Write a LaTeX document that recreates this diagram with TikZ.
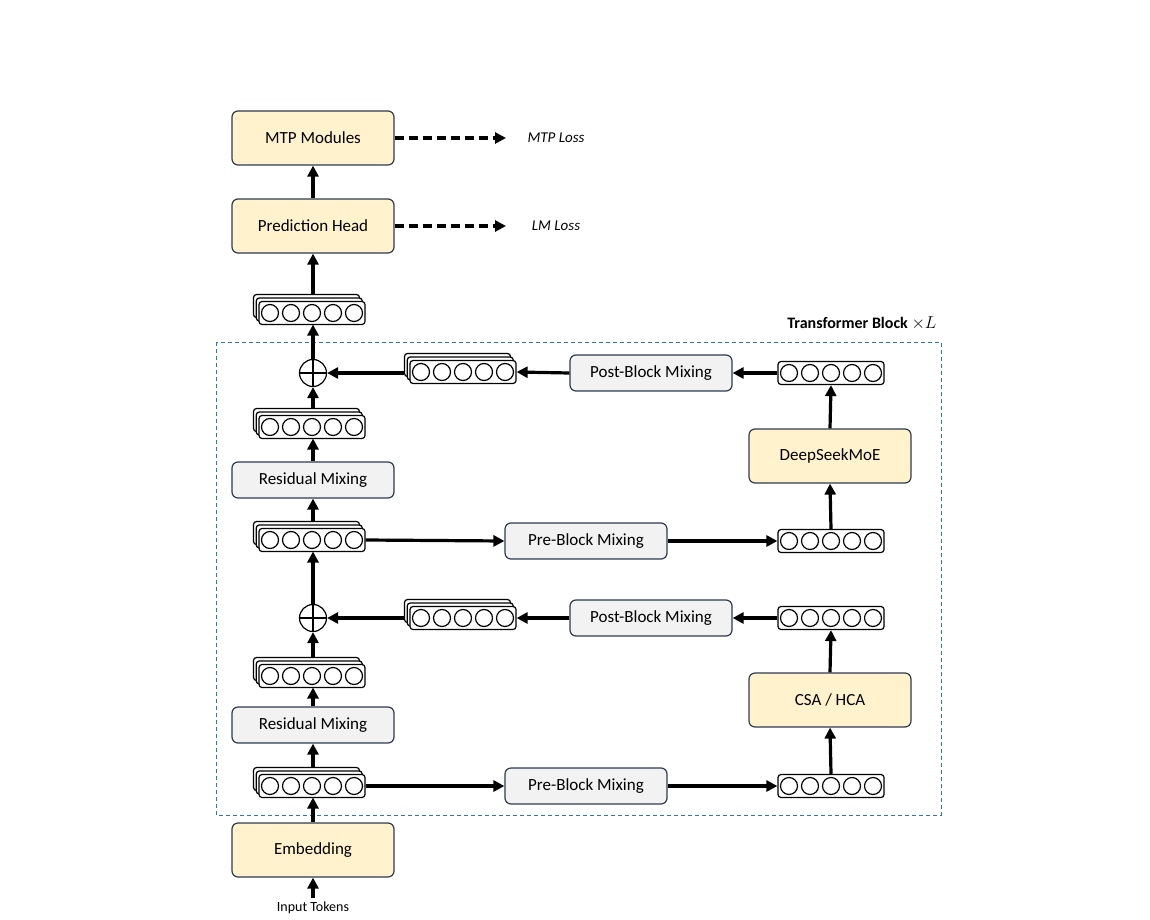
\documentclass[tikz,border=0pt]{standalone}
\usepackage{fontspec}
\setmainfont{Carlito}
\usetikzlibrary{arrows.meta}
\definecolor{yel}{HTML}{FFF2CC}
\definecolor{gry}{HTML}{F2F2F2}
\definecolor{bord}{HTML}{2F3A4F}
\definecolor{dblue}{HTML}{2E75B6}
\tikzset{
 box/.style={draw=bord, line width=1.2pt, rounded corners=6, minimum width=162, minimum height=36, font=\fontsize{17}{20}\selectfont},
 ybox/.style={box, fill=yel, minimum height=54},
 gbox/.style={box, fill=gry},
 vec/.style={draw=black, line width=1.2pt, rounded corners=3, minimum width=106, minimum height=23, fill=white, inner sep=0},
 arr/.style={line width=3.2pt, -{Triangle[length=11,width=11]}},
 darr/.style={line width=3.2pt, dash pattern=on 9pt off 5pt, -{Triangle[length=11,width=11]}},
 plus/.style={circle, draw=black, line width=1.2pt, minimum size=27, fill=white, inner sep=0},
}
\newcommand\circs[2]{\foreach \k in {-2,...,2}{\draw[line width=1.2pt] (#1+\k*21,#2) circle (8.5);}}
\newcommand\singlevec[3]{\node[vec] (#1) at (#2,#3) {}; \circs{#2}{#3}}
\newcommand\stackvec[3]{%
 \node[vec] (#1b2) at (#2-5.5,#3-7) {};
 \node[vec] (#1b1) at (#2-2.75,#3-3.5) {};
 \node[vec] (#1) at (#2,#3) {}; \circs{#2}{#3}}
\begin{document}
\begin{tikzpicture}[x=1pt,y=-1pt]
\useasboundingbox (0,0) rectangle (1150,920);
\draw[dblue, line width=1pt, dash pattern=on 4pt off 3pt] (216,342) rectangle (941,815);
\node[anchor=east, font=\fontsize{16}{19}\selectfont\bfseries] (tb) at (940,323) {Transformer Block $\times L$};

\node[ybox] (mtp) at (313,138) {MTP Modules};
\node[ybox] (ph) at (313,226) {Prediction Head};
\node[font=\fontsize{15}{18}\selectfont\itshape] (mtpl) at (556,138) {MTP Loss};
\node[font=\fontsize{15}{18}\selectfont\itshape] (lml) at (556,226) {LM Loss};
\coordinate (mtpe) at (506,138);
\coordinate (lme) at (506,226);

\stackvec{s0}{312}{313}
\node[plus] (p1) at (313,373) {};
\draw[line width=1.2pt] (p1.north)--(p1.south) (p1.west)--(p1.east);
\stackvec{r1}{463}{372}
\node[gbox] (post1) at (651,373) {Post-Block Mixing};
\singlevec{v1}{831}{373}
\node[ybox] (moe) at (830,456) {DeepSeekMoE};
\singlevec{v2}{831}{541}
\node[gbox] (pre1) at (586,541) {Pre-Block Mixing};
\stackvec{s3}{312}{540}
\node[gbox] (res1) at (313,480) {Residual Mixing};
\stackvec{s2}{312}{427}

\node[plus] (p2) at (313,618) {};
\draw[line width=1.2pt] (p2.north)--(p2.south) (p2.west)--(p2.east);
\stackvec{r2}{463}{618}
\node[gbox] (post2) at (651,618) {Post-Block Mixing};
\singlevec{v3}{831}{618}
\node[ybox] (csa) at (830,700) {CSA / HCA};
\singlevec{v4}{831}{786}
\node[gbox] (pre2) at (586,786) {Pre-Block Mixing};
\stackvec{s5}{312}{786}
\node[gbox] (res2) at (313,725) {Residual Mixing};
\stackvec{s4}{312}{676}

\node[ybox] (emb) at (313,850) {Embedding};
\node[font=\fontsize{14}{17}\selectfont] (in) at (313,908) {Input Tokens};

\draw[arr] (in.north) -- (emb.south);
\draw[arr] (emb.north) -- (313,797.5);
\draw[arr] (s5.east) -- (pre2.west);
\draw[arr] (pre2.east) -- (v4.west);
\draw[arr] (s5b2.north -| res2) -- (res2.south);
\draw[arr] (res2.north) -- (313,687.5);
\draw[arr] (s4b2.north -| p2) -- (p2.south);
\draw[arr] (v4.north) -- (csa.south);
\draw[arr] (csa.north) -- (v3.south);
\draw[arr] (v3.west) -- (post2.east);
\draw[arr] (post2.west) -- (r2.east);
\draw[arr] (r2b2.west |- p2) -- (p2.east);
\draw[arr] (p2.north) -- (313,551.5);
\draw[arr] (s3b2.north -| res1) -- (res1.south);
\draw[arr] (s3.east) -- (pre1.west);
\draw[arr] (pre1.east) -- (v2.west);
\draw[arr] (v2.north) -- (moe.south);
\draw[arr] (moe.north) -- (v1.south);
\draw[arr] (v1.west) -- (post1.east);
\draw[arr] (post1.west) -- (r1.east);
\draw[arr] (r1b2.west |- p1) -- (p1.east);
\draw[arr] (res1.north) -- (313,438.5);
\draw[arr] (s2b2.north -| p1) -- (p1.south);
\draw[arr] (p1.north) -- (313,324.5);
\draw[arr] (s0b2.north -| ph) -- (ph.south);
\draw[arr] (ph.north) -- (mtp.south);
\draw[darr] (mtp.east) -- (mtpe);
\draw[darr] (ph.east) -- (lme);
\end{tikzpicture}
\end{document}
